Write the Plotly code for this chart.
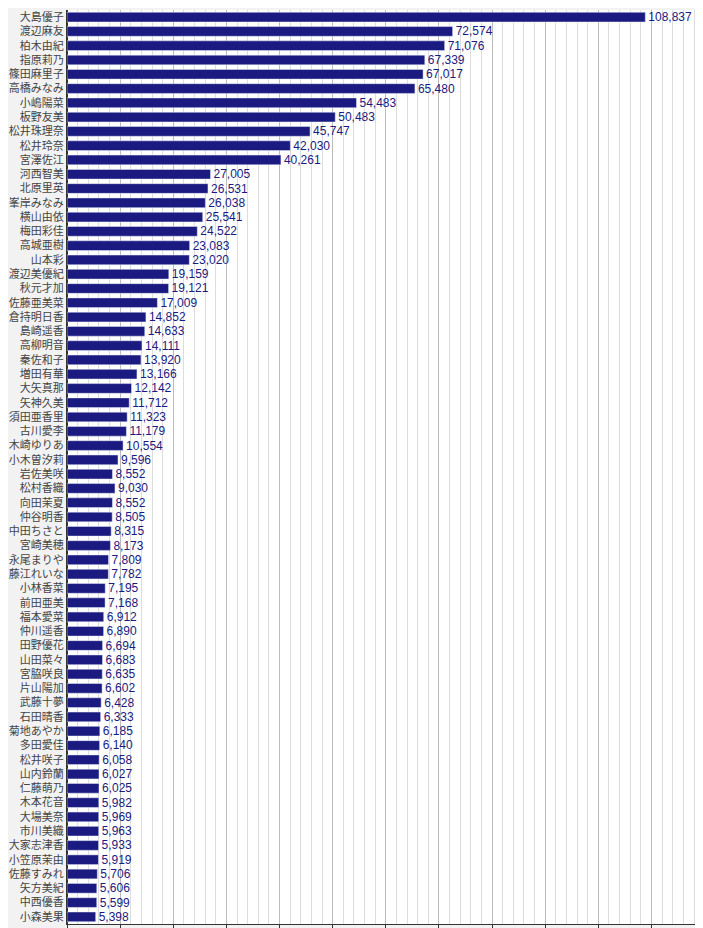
import plotly.graph_objects as go

names = ["大島優子","渡辺麻友","柏木由紀","指原莉乃","篠田麻里子","高橋みなみ","小嶋陽菜","板野友美","松井珠理奈","松井玲奈","宮澤佐江",
"河西智美","北原里英","峯岸みなみ","横山由依","梅田彩佳","高城亜樹","山本彩","渡辺美優紀","秋元才加","佐藤亜美菜",
"倉持明日香","島崎遥香","高柳明音","秦佐和子","増田有華","大矢真那","矢神久美","須田亜香里","古川愛李","木崎ゆりあ","小木曽汐莉",
"岩佐美咲","松村香織","向田茉夏","仲谷明香","中田ちさと","宮崎美穂","永尾まりや","藤江れいな","小林香菜","前田亜美",
"福本愛菜","仲川遥香","田野優花","山田菜々","宮脇咲良","片山陽加","武藤十夢","石田晴香","菊地あやか","多田愛佳","松井咲子",
"山内鈴蘭","仁藤萌乃","木本花音","大場美奈","市川美織","大家志津香","小笠原茉由","佐藤すみれ","矢方美紀","中西優香","小森美果"]
votes = [108837,72574,71076,67339,67017,65480,54483,50483,45747,42030,40261,
27005,26531,26038,25541,24522,23083,23020,19159,19121,17009,
14852,14633,14111,13920,13166,12142,11712,11323,11179,10554,9596,
8552,9030,8552,8505,8315,8173,7809,7782,7195,7168,
6912,6890,6694,6683,6635,6602,6428,6333,6185,6140,6058,
6027,6025,5982,5969,5963,5933,5919,5706,5606,5599,5398]

fig = go.Figure(go.Bar(
    x=votes, y=names, orientation="h", width=0.68,
    marker=dict(color="#1a1a80"),
    text=[f"{v:,}" for v in votes], textposition="outside",
    constraintext="none",
    textfont=dict(color="#1a1a80", size=12, family="Liberation Sans"),
    cliponaxis=False,
))
fig.update_layout(
    width=703, height=928, margin=dict(l=59, r=0, t=2, b=12),
    paper_bgcolor="#f2f2f2", plot_bgcolor="white", showlegend=False,
    font=dict(family="Noto Sans CJK JP", size=11, color="#333"),
    xaxis=dict(range=[0, 121200], dtick=10000, showgrid=True, gridcolor="#bbbbbb", gridwidth=1,
               showticklabels=False, ticks="outside", ticklen=6, tickcolor="#333",
               minor=dict(dtick=2000, showgrid=True, gridcolor="#dddddd", gridwidth=1),
               zeroline=True, zerolinecolor="#333", showline=True, linecolor="#333", automargin=False),
    yaxis=dict(autorange="reversed", showgrid=False, ticks="", automargin=False,
               tickfont=dict(size=11, color="#444"), showline=True, linecolor="#333"),
)
fig.write_html("out.html")
